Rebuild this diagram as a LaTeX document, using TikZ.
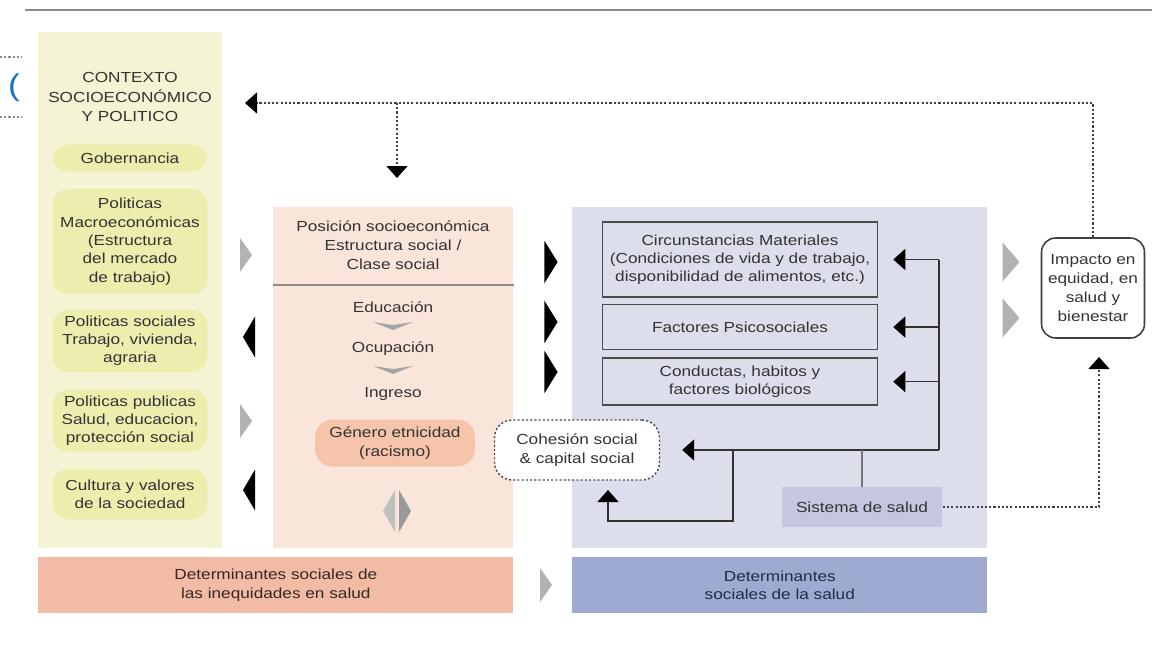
\documentclass[tikz,border=0pt]{standalone}
\usepackage{fontspec}
\setmainfont[FakeStretch=1.18]{Liberation Sans}
\usetikzlibrary{positioning}
\usetikzlibrary{arrows.meta}

\definecolor{ink}{HTML}{333333}
\definecolor{ctxyellow}{HTML}{F4F4D5}
\definecolor{pillyellow}{HTML}{EDEDAE}
\definecolor{pospink}{HTML}{FAE5DB}
\definecolor{genpink}{HTML}{F6C4AA}
\definecolor{detblue}{HTML}{DDDEEC}
\definecolor{saludblue}{HTML}{C5C6DF}
\definecolor{barpink}{HTML}{F2BBA5}
\definecolor{barblue}{HTML}{9EAAD1}
\definecolor{inqtext}{HTML}{3A2620}
\definecolor{dsstext}{HTML}{222B48}

\begin{document}
\begin{tikzpicture}[x=0.02cm, y=-0.02cm, node distance=0.34cm,
  font=\fontsize{8.3}{10.4}\selectfont, text=ink,
  panel/.style={anchor=north west, inner sep=0pt},
  pill/.style={fill=pillyellow, rounded corners=9pt, minimum width=3.1cm, align=center, inner sep=2pt},
  factor/.style={draw=black!70, line width=0.9pt, fill=detblue, minimum width=5.5cm, align=center},
  link/.style={draw=black!80, line width=0.8pt},
  dotline/.style={draw=black!75, line width=0.8pt, dash pattern=on 1.2pt off 1.2pt},
  tip/.style={-{Triangle[length=2.4mm,width=4.2mm,color=black]}},
  rtri/.pic={\path[pic actions] (-6,-17) -- (6,0) -- (-6,17) -- cycle;},
  ltri/.pic={\path[pic actions] (6,-17) -- (-6,0) -- (6,17) -- cycle;},
  chev/.pic={\path[pic actions] (-20,-4) -- (0,-1) -- (20,-4) -- (0,4) -- cycle;}]
\useasboundingbox (0,0) rectangle (1152,646);
\draw[black!45, line width=1.2pt] (25,10) -- (1152,10);
\draw[dotline, black!45] (0,57) -- (22,57) (0,117) -- (22,117);
\node[text=cyan!55!blue, font=\fontsize{17}{17}\selectfont] (paren) at (14,88) {(};

\node[panel, fill=ctxyellow, minimum width=3.68cm, minimum height=10.32cm] (ctx) at (38,32) {};
\node[panel, fill=pospink, minimum width=4.8cm, minimum height=6.82cm] (pos) at (273,207) {};
\node[panel, fill=detblue, minimum width=8.3cm, minimum height=6.82cm] (det) at (572,207) {};
\node[panel, fill=barpink, minimum width=9.5cm, minimum height=1.12cm, align=center, text=inqtext] (inq) at (38,557) {Determinantes sociales de\\las inequidades en salud};
\node[panel, fill=barblue, minimum width=8.3cm, minimum height=1.12cm, align=center, text=dsstext] (dss) at (572,557) {Determinantes\\sociales de la salud};
\draw[black!45, line width=1pt] (pos.north west |- 0,285) -- (pos.north east |- 0,285);

\node[align=center, font=\fontsize{8.3}{11}\selectfont] (ctxt) at (130,97) {CONTEXTO\\SOCIOECONÓMICO\\Y POLITICO};
\node[pill, minimum height=0.54cm] (gob) at (130,158) {Gobernancia};
\node[pill, minimum height=2.1cm, below=of gob] (macro) {Politicas\\Macroeconómicas\\(Estructura\\del mercado\\de trabajo)};
\node[pill, minimum height=1.24cm, below=0.3cm of macro] (soc) {Politicas sociales\\Trabajo, vivienda,\\agraria};
\node[pill, minimum height=1.24cm, below=of soc] (pub) {Politicas publicas\\Salud, educacion,\\protección social};
\node[pill, minimum height=1.0cm, below=of pub] (cult) {Cultura y valores\\de la sociedad};

\node[align=center, font=\fontsize{8.3}{10.8}\selectfont] (posh) at (393,245) {Posición socioeconómica\\Estructura social /\\Clase social};
\node (edu) at (393,307) {Educación};
\node (ocu) at (393,349) {Ocupación};
\node (ing) at (393,394) {Ingreso};
\node[fill=genpink, rounded corners=10pt, minimum width=3.2cm, minimum height=0.94cm, align=center] (gen) at (395,443) {Género etnicidad\\(racismo)};
\pic[fill=black!35] at (393,326) {chev};
\pic[fill=black!35] at (393,370) {chev};
\path[fill=black!25] (395,490) -- (383,511) -- (395,532) -- cycle;
\path[fill=black!40] (399,490) -- (411,511) -- (399,532) -- cycle;

\node[factor, minimum height=1.5cm] (circ) at (740,259.5) {Circunstancias Materiales\\(Condiciones de vida y de trabajo,\\disponibilidad de alimentos, etc.)};
\node[factor, minimum height=0.9cm, below=0.12cm of circ] (psico) {Factores Psicosociales};
\node[factor, minimum height=0.94cm, below=0.14cm of psico] (cond) {Conductas, habitos y\\factores biológicos};
\node[draw=black!70, dash pattern=on 1.2pt off 1.2pt, line width=0.8pt, fill=white, rounded corners=10pt, minimum width=3.3cm, minimum height=1.2cm, align=center] (cohes) at (577,450) {Cohesión social\\\& capital social};
\node[fill=saludblue, minimum width=3.22cm, minimum height=0.8cm] (salud) at (862,507) {Sistema de salud};
\node[draw=black!75, line width=0.9pt, fill=white, rounded corners=8pt, minimum width=2.06cm, minimum height=2cm, align=center, font=\fontsize{8.3}{10.8}\selectfont] (impact) at (1093,288) {Impacto en\\equidad, en\\salud y\\bienestar};

\pic[fill=black!30] at (246,255) {rtri};
\pic[fill=black!30] at (246,421) {rtri};
\pic[fill=black, yscale=1.2] at (249,337) {ltri};
\pic[fill=black, yscale=1.2] at (249,490) {ltri};
\pic[fill=black, yscale=1.25, xscale=1.1] at (551,262) {rtri};
\pic[fill=black, yscale=1.25, xscale=1.1] at (551,322) {rtri};
\pic[fill=black, yscale=1.25, xscale=1.1] at (551,372) {rtri};
\pic[fill=black!30, yscale=1.15, xscale=1.4] at (1011,262) {rtri};
\pic[fill=black!30, yscale=1.15, xscale=1.4] at (1011,318) {rtri};
\pic[fill=black!30] at (546,585) {rtri};

\coordinate (jbot) at (939,450);
\coordinate (jmid) at (733,450);
\coordinate (loopl) at (608,521);
\coordinate (cohin) at (608,490);
\coordinate (fbl) at (245,103);
\coordinate (fbj) at (397,103);
\coordinate (fbd) at (397,178);
\coordinate (impin) at (1099,357);
\draw[link] (circ.east -| jbot) -- (jbot);
\draw[link, tip, shorten >=3mm] (circ.east -| jbot) -- (circ.east);
\draw[link, tip, shorten >=3mm] (psico.east -| jbot) -- (psico.east);
\draw[link, tip, shorten >=3mm] (cond.east -| jbot) -- (cond.east);
\draw[link, tip, shorten >=4.4mm] (jbot) -- (cohes.east);
\draw[link, tip] (jmid) |- (loopl) -- (cohin);
\draw[link, black!55] (salud.north) -- (salud.north |- jbot);
\draw[dotline, tip] (salud.east) -| (impin);
\draw[dotline, tip] (impact.north) |- (fbl);
\draw[dotline, tip] (fbj) -- (fbd);
\end{tikzpicture}
\end{document}
